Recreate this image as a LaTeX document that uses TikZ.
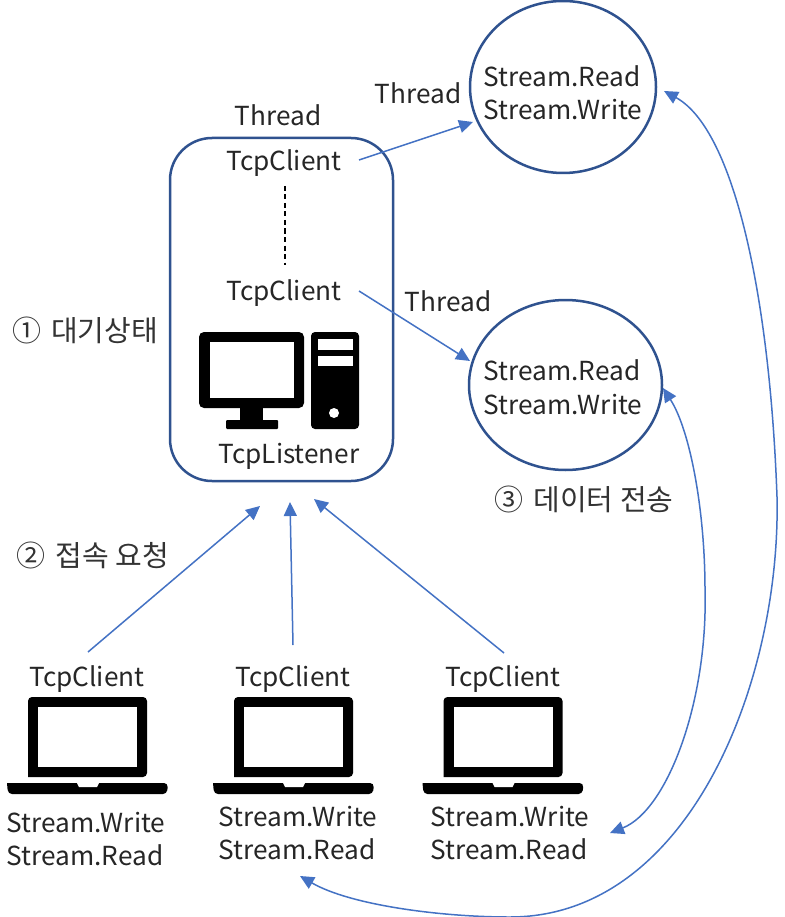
\documentclass[tikz,border=0pt]{standalone}
\usepackage{fontspec}
\setmainfont{Noto Sans CJK KR}
\usetikzlibrary{arrows.meta,shapes.geometric}
\definecolor{boxblue}{RGB}{47,82,143}
\definecolor{arrowblue}{RGB}{68,114,196}
\tikzset{
  lbl/.style={inner sep=0pt,font=\fontsize{26.2}{33.5}\selectfont,text=black!85,align=left},
  kor/.style={inner sep=0pt,font=\fontsize{29}{33}\selectfont,text=black!80},
  ring/.style={draw=boxblue,line width=2.5pt},
  conn/.style={draw=arrowblue,line width=1.5pt,-{Triangle[length=14pt,width=13pt]}},
  both/.style={draw=arrowblue,line width=1.5pt,{Triangle[length=14pt,width=13pt]}-{Triangle[length=14pt,width=13pt]}},
  laptop/.pic={
    \fill[black,rounded corners=4pt] (-59,25) -- (-59,-55) -- (60,-55) -- (60,25) [sharp corners] -- cycle;
    \fill[white] (-49,-45) rectangle (50,15);
    \fill[black,rounded corners=4pt] (-80,31) -- (-79,42) -- (80,42) -- (81,31) [sharp corners] -- cycle;
    \fill[white] (-10,31) -- (-8,35) -- (10,35) -- (12,31) -- cycle;
  }
}
\begin{document}
\begin{tikzpicture}[x=1pt,y=-1pt]
\useasboundingbox (0,0) rectangle (784,917);
\fill[white] (0,0) rectangle (784,917);
% server box and circles
\node[ring,draw,rounded corners=42pt,minimum width=223pt,minimum height=343pt,inner sep=0pt] (srv) at (281.5,309.5) {};
\node[ring,draw,ellipse,minimum width=186pt,minimum height=172pt,inner sep=0pt] (c1) at (563,87) {};
\node[ring,draw,ellipse,minimum width=193pt,minimum height=170pt,inner sep=0pt] (c2) at (565.5,385) {};
% server icon
\fill[black,rounded corners=5pt] (199,332) rectangle (304,408);
\fill[white] (210,342) rectangle (294,398);
\fill[black] (240,405) rectangle (263,420);
\fill[black,rounded corners=1pt] (226,420) rectangle (278,429);
\fill[black,rounded corners=4pt] (311,332) rectangle (359,429);
\fill[white] (318,339) rectangle (353,350);
\fill[white] (318,356) rectangle (353,366);
\fill[white] (334,413) circle (5pt);
% laptops
\pic at (87,752) {laptop};
\pic at (293,752) {laptop};
\pic at (502.5,752) {laptop};
% texts
\node[lbl] (t0) at (278,115) {Thread};
\node[lbl] (t1) at (418,93) {Thread};
\node[lbl] (t2) at (448,301) {Thread};
\node[lbl] (tc1) at (284,163) {TcpClient};
\node[lbl] (tc2) at (284,293) {TcpClient};
\node[lbl] (tl) at (289,456) {TcpListener};
\node[lbl] (s1) at (563,92.5) {Stream.Read\\Stream.Write};
\node[lbl] (s2) at (563,387) {Stream.Read\\Stream.Write};
\node[kor] (n1) at (85,330) {①\hspace{10pt}대기상태};
\node[kor] (n2) at (93,555) {②\hspace{10pt}접속 요청};
\node[kor] (n3) at (584,499) {③\hspace{10pt}데이터 전송};
\node[lbl] (l1) at (87,679) {TcpClient};
\node[lbl] (l2) at (293,679) {TcpClient};
\node[lbl] (l3) at (503,679) {TcpClient};
\node[lbl] (w1) at (86,839) {Stream.Write\\Stream.Read};
\node[lbl] (w2) at (298,833) {Stream.Write\\Stream.Read};
\node[lbl] (w3) at (510,833) {Stream.Write\\Stream.Read};
% connector anchors
\coordinate (a1) at (359,160);
\coordinate (a2) at (473,122);
\coordinate (b1) at (359,291);
\coordinate (b2) at (470,361);
\coordinate (d1) at (88,652);
\coordinate (d2) at (260,506);
\coordinate (e1) at (293,645);
\coordinate (e2) at (290,502);
\coordinate (f1) at (504,653);
\coordinate (f2) at (314,499);
\coordinate (g1) at (664,91);
\coordinate (g2) at (300,876);
\coordinate (h1) at (663,388);
\coordinate (h2) at (610,833);
\draw[conn] (a1) -- (a2);
\draw[conn] (b1) -- (b2);
\draw[conn] (d1) -- (d2);
\draw[conn] (e1) -- (e2);
\draw[conn] (f1) -- (f2);
\coordinate (dt) at (285,186);
\coordinate (db) at (285,265);
\draw[draw=black,line width=1.3pt,dash pattern=on 5pt off 3.5pt] (dt) -- (db);
\draw[both] (g1) .. controls (735,130) and (770,300) .. (777,497) .. controls (781,680) and (690,917) .. (510,917) .. controls (440,917) and (350,905) .. (g2);
\draw[both] (h1) .. controls (690,430) and (705,510) .. (705,590) .. controls (708,700) and (668,810) .. (h2);
\end{tikzpicture}
\end{document}
